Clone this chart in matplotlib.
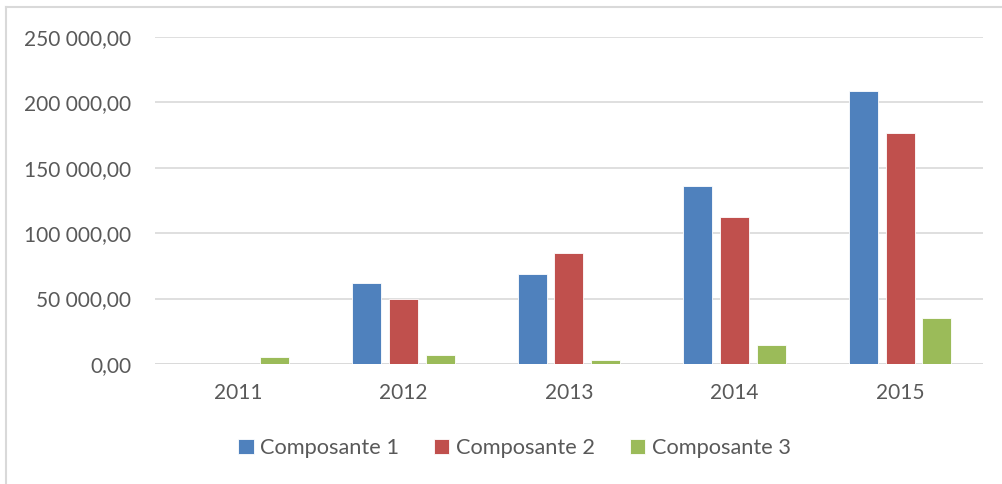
import numpy as np
import matplotlib.pyplot as plt
from matplotlib.lines import Line2D

# ======================================================
# Données
# ======================================================
years = ['2011', '2012', '2013', '2014', '2015']
composante_1 = [0, 61700, 68600, 135900, 208200]
composante_2 = [0, 49500, 84900, 112200, 176600]
composante_3 = [5600, 6700, 2800, 14500, 35200]
series_names = ['Composante 1', 'Composante 2', 'Composante 3']
colors = ['#4F81BD', '#C0504D', '#9BBB59']
y_ticks = [0, 50000, 100000, 150000, 200000, 250000]

plt.rcParams['font.family'] = ['Lato', 'DejaVu Sans']
text_color = '#595959'


def fr_format(v):
    # format "250 000,00"
    s = f"{v:,.2f}"
    return s.replace(',', ' ').replace('.', ',')


# ======================================================
# Tracé
# ======================================================
fig = plt.figure(figsize=(10.03, 4.84), dpi=100)
ax = fig.add_axes([0.1545, 0.2479, 0.8255, 0.6763])

x = np.arange(len(years))
width = 0.175
step = 0.2215
all_series = [composante_1, composante_2, composante_3]
for i, (vals, name, col) in enumerate(zip(all_series, series_names, colors)):
    ax.bar(x + (i - 1) * step, vals, width, color=col, label=name,
           edgecolor='white', linewidth=0.6, zorder=3)

ax.set_xlim(-0.5, len(years) - 0.5)
ax.set_ylim(0, 250000)
ax.set_yticks(y_ticks)
ax.set_yticklabels([fr_format(v) for v in y_ticks])
ax.set_xticks(x)
ax.set_xticklabels(years)
ax.tick_params(axis='both', length=0, labelsize=15, labelcolor=text_color)
ax.tick_params(axis='y', pad=17)
ax.tick_params(axis='x', pad=14)
ax.grid(axis='y', color='#d9d9d9', linewidth=1.2, zorder=0)
for sp in ax.spines.values():
    sp.set_visible(False)
ax.axhline(0, color='#d9d9d9', linewidth=1.2, zorder=1)

leg = fig.legend(loc='center', bbox_to_anchor=(0.513, 0.074), ncol=3,
                 frameon=False, fontsize=15.7, handlelength=0.7,
                 handleheight=0.7, handletextpad=0.3, columnspacing=1.6)
for t in leg.get_texts():
    t.set_color(text_color)

# cadre extérieur (gauche et haut seulement)
fig.add_artist(Line2D([0.006, 0.006], [0.0, 0.986], transform=fig.transFigure,
                      color='#d9d9d9', linewidth=1.5))
fig.add_artist(Line2D([0.006, 1.0], [0.986, 0.986], transform=fig.transFigure,
                      color='#d9d9d9', linewidth=1.5))

plt.savefig('out.png', dpi=100)
